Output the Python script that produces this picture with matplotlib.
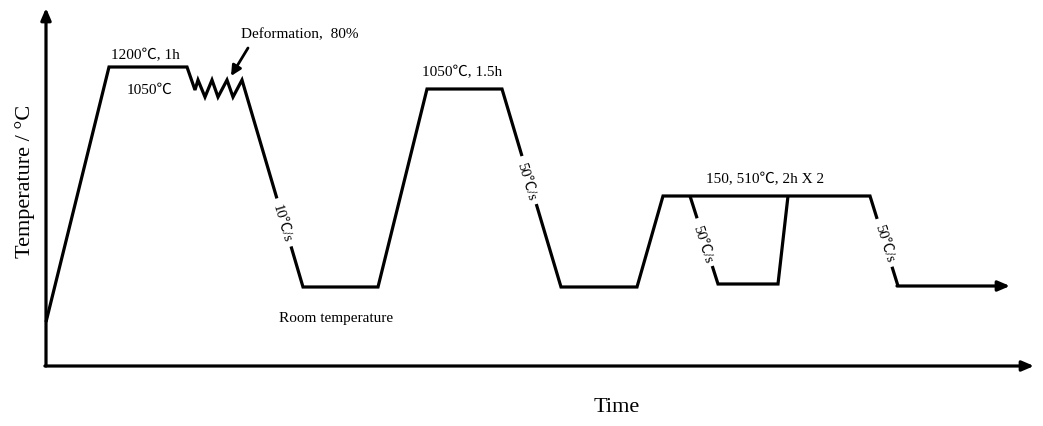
import numpy as np
import matplotlib
matplotlib.use("Agg")
import matplotlib.pyplot as plt

# schematic coordinates (time units, temperature units; temperature grows downwards on the canvas)
path_t = [46, 109, 187, 195, 198, 205, 212, 218, 227, 233, 242, 303, 378, 427, 502, 561, 637, 663, 870, 898, 1010]
path_T = [323, 68, 68, 91, 81, 98, 81, 98, 81, 98, 81, 288, 288, 90, 90, 288, 288, 197, 197, 287, 287]

# second quench/ageing loop inside the 510 ℃ hold
loop_t = [690, 718, 778, 788]
loop_T = [197, 285, 285, 197]

# plain labels: text, x, y, size
labels = [
    ("1200℃, 1h", 145, 56),
    ("1050℃", 150, 90),
    ("Deformation,  80%", 300, 35),
    ("1050℃, 1.5h", 462, 73),
    ("Room temperature", 336, 319),
    ("150, 510℃, 2h X 2", 765, 180),
]

# cooling rate labels sitting on the slopes: text, x, y, segment start, segment end
rate_labels = [
    ("10℃/s", 282, 224, (242, 81), (303, 288)),
    ("50℃/s", 526, 182, (502, 90), (561, 288)),
    ("50℃/s", 702, 244, (690, 197), (718, 285)),
    ("50℃/s", 884, 244, (870, 197), (898, 287)),
]

W, H = 1043, 427
FONT = ["Liberation Serif", "Noto Sans CJK SC"]
LW = 2.3

fig = plt.figure(figsize=(W / 100, H / 100), dpi=100)
ax = fig.add_axes([0, 0, 1, 1])
ax.set_xlim(0, W)
ax.set_ylim(H, 0)
ax.axis("off")

# axes with arrows
ax.annotate("", xy=(46, 9), xytext=(46, 367),
            arrowprops=dict(arrowstyle="-|>,head_length=0.7,head_width=0.3", lw=LW, color="k",
                            shrinkA=0, shrinkB=0))
ax.annotate("", xy=(1034, 367), xytext=(44.9, 367),
            arrowprops=dict(arrowstyle="-|>,head_length=0.7,head_width=0.3", lw=LW, color="k",
                            shrinkA=0, shrinkB=0))

# heat-treatment path
ax.plot(path_t[:-1], path_T[:-1], color="k", lw=LW, solid_joinstyle="miter", solid_capstyle="butt")
ax.annotate("", xy=(path_t[-1], path_T[-1]), xytext=(path_t[-2] - 1, path_T[-2]),
            arrowprops=dict(arrowstyle="-|>,head_length=0.7,head_width=0.3", lw=LW, color="k",
                            shrinkA=0, shrinkB=0))
ax.plot(loop_t, loop_T, color="k", lw=LW, solid_joinstyle="miter", solid_capstyle="butt")

# deformation arrow
ax.annotate("", xy=(231, 77), xytext=(248, 49),
            arrowprops=dict(arrowstyle="-|>,head_length=0.6,head_width=0.3", lw=2, color="k",
                            shrinkA=0, shrinkB=0))

for txt, x, y in labels:
    ax.text(x, y, txt, family=FONT, fontsize=11, ha="center", va="center")

for txt, x, y, p0, p1 in rate_labels:
    ang = -np.degrees(np.arctan2(p1[1] - p0[1], p1[0] - p0[0]))
    ax.text(x, y, txt, family=FONT, fontsize=10.5, ha="center", va="center",
            rotation=ang, rotation_mode="anchor",
            bbox=dict(facecolor="white", edgecolor="none", pad=4))

ax.text(25, 181, "Temperature / °C", family=FONT, fontsize=16, rotation=90,
        ha="center", va="center")
ax.text(617, 408, "Time", family=FONT, fontsize=16, ha="center", va="center")

fig.savefig("out.png", dpi=100)
